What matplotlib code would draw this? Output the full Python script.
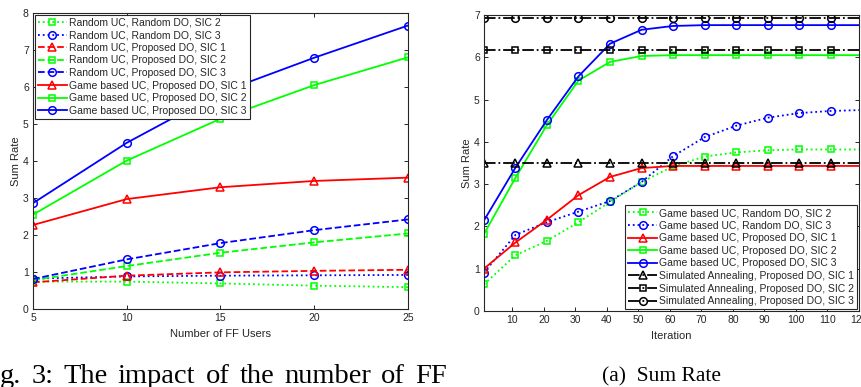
import matplotlib
matplotlib.use("Agg")
import matplotlib.pyplot as plt

plt.rcParams['font.family'] = ['Liberation Sans', 'DejaVu Sans']

GREY = '#262626'

# left panel: sum rate vs number of FF users
users = [5, 10, 15, 20, 25]
rr_sic2 = [0.74, 0.74, 0.69, 0.63, 0.59]
rr_sic3 = [0.82, 0.88, 0.90, 0.91, 0.92]
rp_sic1 = [0.72, 0.90, 0.99, 1.03, 1.06]
rp_sic2 = [0.78, 1.16, 1.52, 1.80, 2.04]
rp_sic3 = [0.81, 1.34, 1.78, 2.13, 2.42]
gp_sic1 = [2.27, 2.97, 3.29, 3.46, 3.55]
gp_sic2 = [2.55, 4.01, 5.14, 6.05, 6.80]
gp_sic3 = [2.86, 4.49, 5.85, 6.79, 7.66]

# right panel: sum rate vs iteration (markers every 10 iterations, last point = 120)
iters = [1, 11, 21, 31, 41, 51, 61, 71, 81, 91, 101, 111, 120]
g_rand_sic2 = [0.63, 1.32, 1.66, 2.10, 2.58, 3.05, 3.42, 3.65, 3.75, 3.80, 3.82, 3.82, 3.82]
g_rand_sic3 = [0.91, 1.80, 2.10, 2.35, 2.60, 3.05, 3.66, 4.11, 4.38, 4.57, 4.68, 4.73, 4.75]
g_prop_sic1 = [1.00, 1.62, 2.16, 2.74, 3.17, 3.38, 3.43, 3.43, 3.43, 3.43, 3.43, 3.43, 3.43]
g_prop_sic2 = [1.82, 3.15, 4.40, 5.45, 5.89, 6.03, 6.05, 6.05, 6.05, 6.05, 6.05, 6.05, 6.05]
g_prop_sic3 = [2.14, 3.39, 4.52, 5.55, 6.32, 6.65, 6.74, 6.76, 6.76, 6.76, 6.76, 6.76, 6.76]
sa_sic1 = [3.51] * len(iters)
sa_sic2 = [6.18] * len(iters)
sa_sic3 = [6.94] * len(iters)

caption_left = 'g. 3: The impact of the number of FF'
caption_right = '(a)  Sum Rate'

fig = plt.figure(figsize=(8.61, 3.87), dpi=100)
ax1 = fig.add_axes([0.0383, 0.2016, 0.4355, 0.7649])
ax2 = fig.add_axes([0.5621, 0.1964, 0.4355, 0.7649])

mk = dict(mfc='none', mew=1.1)
lw = 1.3

ax1.plot(users, rr_sic2, ':', color=(0, 1, 0), marker='s', ms=4.5, lw=lw, label='Random UC, Random DO, SIC 2', **mk)
ax1.plot(users, rr_sic3, ':', color='b', marker='o', ms=5.5, lw=lw, label='Random UC, Random DO, SIC 3', **mk)
ax1.plot(users, rp_sic1, '--', color='r', marker='^', ms=6, lw=lw, label='Random UC, Proposed DO, SIC 1', **mk)
ax1.plot(users, rp_sic2, '--', color=(0, 1, 0), marker='s', ms=4.5, lw=lw, label='Random UC, Proposed DO, SIC 2', **mk)
ax1.plot(users, rp_sic3, '--', color='b', marker='o', ms=5.5, lw=lw, label='Random UC, Proposed DO, SIC 3', **mk)
ax1.plot(users, gp_sic1, '-', color='r', marker='^', ms=6, lw=lw, label='Game based UC, Proposed DO, SIC 1', **mk)
ax1.plot(users, gp_sic2, '-', color=(0, 1, 0), marker='s', ms=4.5, lw=lw, label='Game based UC, Proposed DO, SIC 2', **mk)
ax1.plot(users, gp_sic3, '-', color='b', marker='o', ms=5.5, lw=lw, label='Game based UC, Proposed DO, SIC 3', **mk)
ax1.set_xlim(5, 25)
ax1.set_ylim(0, 8)
ax1.set_xticks(users)
ax1.set_yticks(range(0, 9))
ax1.set_xlabel('Number of FF Users', fontsize=8, color=GREY, labelpad=4)
ax1.set_ylabel('Sum Rate', fontsize=8, color=GREY, labelpad=1.5)

me = slice(0, 12)
ax2.plot(iters, g_rand_sic2, ':', color=(0, 1, 0), marker='s', ms=4.5, lw=lw, markevery=me, label='Game based UC, Random DO, SIC 2', **mk)
ax2.plot(iters, g_rand_sic3, ':', color='b', marker='o', ms=5.5, lw=lw, markevery=me, label='Game based UC, Random DO, SIC 3', **mk)
ax2.plot(iters, g_prop_sic1, '-', color='r', marker='^', ms=6, lw=lw, markevery=me, label='Game based UC, Proposed DO, SIC 1', **mk)
ax2.plot(iters, g_prop_sic2, '-', color=(0, 1, 0), marker='s', ms=4.5, lw=lw, markevery=me, label='Game based UC, Proposed DO, SIC 2', **mk)
ax2.plot(iters, g_prop_sic3, '-', color='b', marker='o', ms=5.5, lw=lw, markevery=me, label='Game based UC, Proposed DO, SIC 3', **mk)
ax2.plot(iters, sa_sic1, '-.', color='k', marker='^', ms=6, lw=lw, markevery=me, label='Simulated Annealing, Proposed DO, SIC 1', **mk)
ax2.plot(iters, sa_sic2, '-.', color='k', marker='s', ms=4.5, lw=lw, markevery=me, label='Simulated Annealing, Proposed DO, SIC 2', **mk)
ax2.plot(iters, sa_sic3, '-.', color='k', marker='o', ms=5.5, lw=lw, markevery=me, label='Simulated Annealing, Proposed DO, SIC 3', **mk)
ax2.set_xlim(1, 120)
ax2.set_ylim(0, 7)
ax2.set_xticks(range(10, 121, 10))
ax2.set_yticks(range(0, 8))
ax2.set_xlabel('Iteration', fontsize=8, color=GREY, labelpad=4)
ax2.set_ylabel('Sum Rate', fontsize=8, color=GREY, labelpad=1.5)

for ax in (ax1, ax2):
    ax.tick_params(direction='in', top=True, right=True, labelsize=7.5,
                   colors=GREY, length=3, width=0.7, pad=3)
    for s in ax.spines.values():
        s.set_color(GREY)
        s.set_linewidth(0.8)

leg_kw = dict(fontsize=7.5, fancybox=False, framealpha=1, edgecolor=GREY,
              borderaxespad=0.15, handlelength=2.8, labelspacing=0.25,
              handletextpad=0.2, borderpad=0.3)
l1 = ax1.legend(loc='upper left', **leg_kw)
l2 = ax2.legend(loc='lower right', **leg_kw)
for l in (l1, l2):
    l.get_frame().set_linewidth(0.8)
    for t in l.get_texts():
        t.set_color(GREY)

# justified caption: spread the words between x0 and x1 (pixels)
serif = ['Liberation Serif', 'DejaVu Serif']
W = fig.get_figwidth() * fig.dpi
x0, x1 = 0, 447
words = caption_left.split()
texts = [fig.text(0, 0.011, w, fontsize=20.5, family=serif, ha='left', va='baseline') for w in words]
r = fig.canvas.get_renderer()
widths = [t.get_window_extent(r).width for t in texts]
gap = (x1 - x0 - sum(widths)) / (len(words) - 1)
x = x0
for t, w in zip(texts, widths):
    t.set_x(x / W)
    x += w + gap

fig.text(0.768, 0.014, caption_right, fontsize=15.5, family=serif, ha='center', va='baseline')

fig.savefig('out.png', dpi=100)
